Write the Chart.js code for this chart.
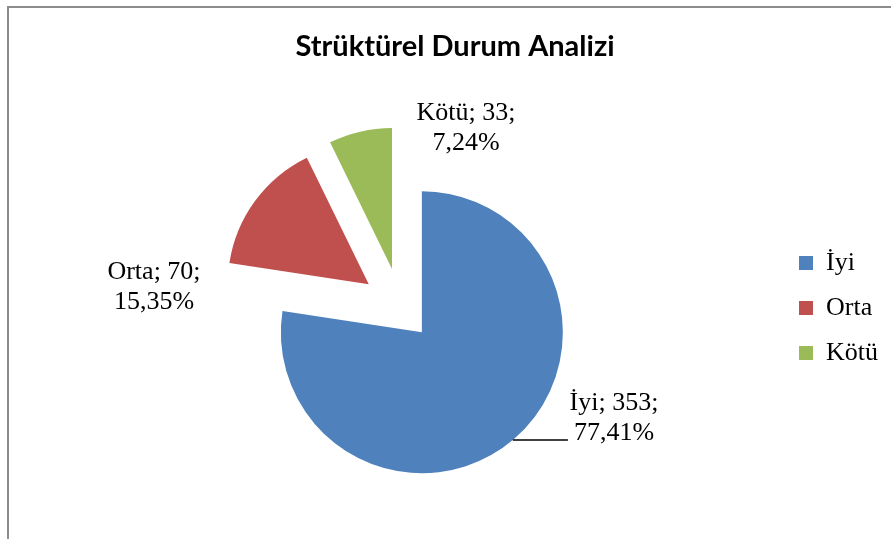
<!DOCTYPE html>
<html>
<head>
<meta charset="utf-8">
<script src="https://cdn.jsdelivr.net/npm/chart.js@4/dist/chart.umd.min.js"></script>
<style>
    html, body { margin: 0; padding: 0; background: #fff; overflow: hidden; }
    #frame {
        position: absolute; left: 7px; top: 6px; width: 900px; height: 560px;
        border-left: 2px solid #8c8c8c; border-top: 2px solid #8c8c8c;
    }
    #pie { position: absolute; left: 0; top: 0; }
</style>
</head>
<body>
<div id="frame"></div>
<canvas id="pie" width="891" height="539"></canvas>
<script>
const categories = ['İyi', 'Orta', 'Kötü'];
const counts = [353, 70, 33];
const colors = ['#4F81BD', '#C0504D', '#9BBB59'];

// pull each slice out along its own mid angle (px)
const explodePlugin = {
    id: 'explode',
    afterDatasetUpdate(chart, args) {
        const ds = chart.data.datasets[args.index];
        args.meta.data.forEach((arc, i) => {
            const d = (ds.explode || [])[i] || 0;
            const mid = (arc.startAngle + arc.endAngle) / 2;
            arc.x += Math.cos(mid) * d;
            arc.y += Math.sin(mid) * d;
        });
    }
};

// "name; value; percent" labels like the excel data labels
const sliceLabels = {
    id: 'sliceLabels',
    afterDatasetsDraw(chart, args, opts) {
        const {ctx, chartArea} = chart;
        const meta = chart.getDatasetMeta(0);
        const total = counts.reduce((a, b) => a + b, 0);
        const cx = (chartArea.left + chartArea.right) / 2;
        const cy = (chartArea.top + chartArea.bottom) / 2;
        const lh = opts.lineHeight;
        ctx.save();
        ctx.font = opts.font;
        ctx.fillStyle = '#000';
        ctx.textAlign = 'center';
        ctx.textBaseline = 'middle';
        meta.data.forEach((arc, i) => {
            const pos = opts.positions[i];
            const x = cx + pos.dx;
            const y = cy + pos.dy;
            const pct = (counts[i] / total * 100).toFixed(2).replace('.', ',') + '%';
            const line1 = categories[i] + '; ' + counts[i] + ';';
            ctx.fillText(line1, x, y - lh / 2);
            ctx.fillText(pct, x, y + lh / 2);
            if (pos.leader) {
                const ly = y + lh / 2 + 7;
                const x2 = x - ctx.measureText(pct).width / 2 - 6;
                const dy = ly - arc.y;
                const x1 = arc.x + Math.sqrt(Math.max(arc.outerRadius ** 2 - dy * dy, 0));
                ctx.beginPath();
                ctx.strokeStyle = '#000';
                ctx.lineWidth = 1.5;
                ctx.moveTo(x1, ly);
                ctx.lineTo(x2, ly);
                ctx.stroke();
            }
        });
        ctx.restore();
    }
};

new Chart(document.getElementById('pie'), {
    type: 'pie',
    data: {
        labels: categories,
        datasets: [{
            data: counts,
            backgroundColor: colors,
            borderWidth: 0,
            explode: [32, 40, 40]
        }]
    },
    options: {
        responsive: false,
        animation: false,
        events: [],
        radius: 141,
        layout: {padding: {left: 22, right: 3, top: 0, bottom: 0}},
        plugins: {
            title: {
                display: true,
                text: 'Strüktürel Durum Analizi',
                color: '#000',
                font: {family: 'Lato', size: 29, weight: 'bold'},
                padding: {top: 29.6, bottom: 12.6}
            },
            legend: {
                position: 'right',
                fullSize: false,
                labels: {
                    color: '#000',
                    font: {family: '"Liberation Serif"', size: 26},
                    boxWidth: 14,
                    boxHeight: 14,
                    padding: 19
                }
            },
            tooltip: {enabled: false},
            sliceLabels: {
                font: '26px "Liberation Serif"',
                lineHeight: 30,
                positions: [
                    {dx: 213, dy: 110, leader: true},
                    {dx: -247, dy: -21},
                    {dx: 65, dy: -180}
                ]
            }
        }
    },
    plugins: [explodePlugin, sliceLabels]
});
</script>
</body>
</html>
